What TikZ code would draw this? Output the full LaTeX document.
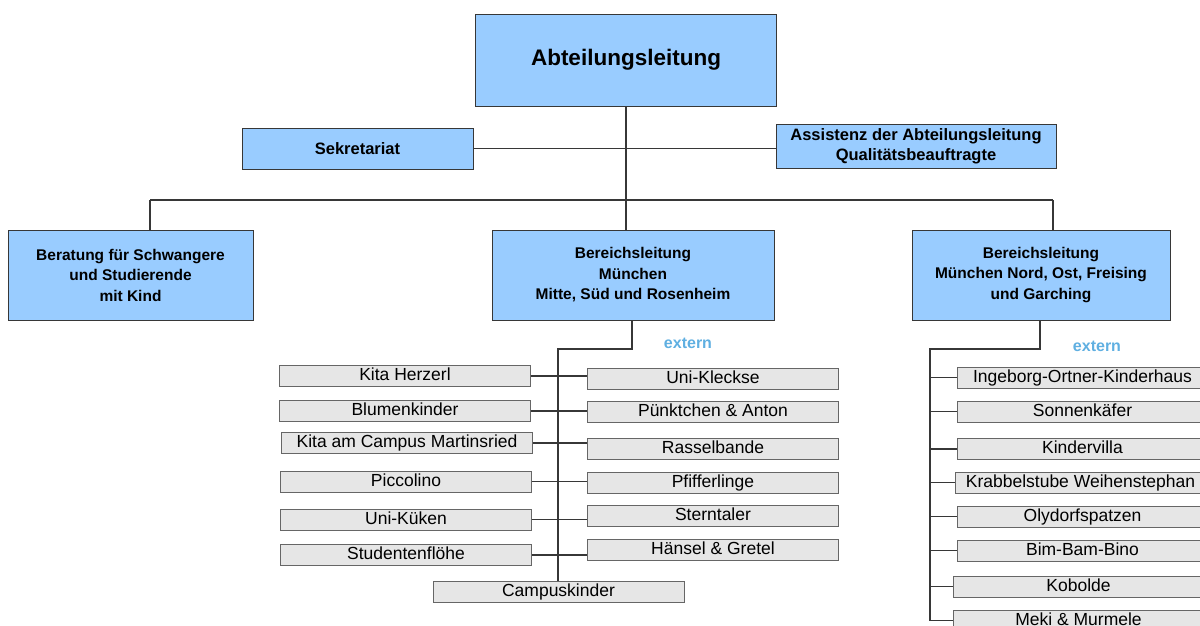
\documentclass[tikz,border=0pt]{standalone}
\usepackage{fontspec}
\setmainfont{Liberation Sans}
\definecolor{bl}{RGB}{153,204,255}
\definecolor{gr}{RGB}{230,230,230}
\definecolor{ext}{RGB}{95,175,225}
\definecolor{ln}{RGB}{55,55,55}
\begin{document}
\begin{tikzpicture}[x=1pt,y=-1pt,
  blue/.style={draw=ln, fill=bl, line width=1pt, inner sep=0pt, align=center,
    font=\fontsize{15.5}{20.5}\selectfont\bfseries},
  grey/.style={draw=black!60, fill=gr, line width=1pt, inner sep=0pt,
    minimum width=251pt, minimum height=21pt, text height=12.5pt, text depth=3.5pt,
    font=\fontsize{17.5}{20}\selectfont},
  extlabel/.style={text=ext, font=\fontsize{16}{18}\selectfont\bfseries},
  conn/.style={draw=ln, line width=1.1pt}]
\useasboundingbox (0,0) rectangle (1200,625);
\clip (0,0) rectangle (1200,625);

% top level
\node[blue, minimum width=301pt, minimum height=92pt, font=\fontsize{22.5}{26}\selectfont\bfseries] (abt) at (626,60) {Abteilungsleitung};
\node[blue, minimum width=231pt, minimum height=41pt, font=\fontsize{16.5}{20}\selectfont\bfseries] (sek) at (357.5,148.5) {Sekretariat};
\node[blue, minimum width=280pt, minimum height=44pt, font=\fontsize{16.5}{20}\selectfont\bfseries] (ass) at (916,146) {Assistenz der Abteilungsleitung\\Qualitätsbeauftragte};

\node[blue, minimum width=245pt, minimum height=90pt] (ber) at (130.5,275) {Beratung für Schwangere\\und Studierende\\mit Kind};
\node[blue, minimum width=282pt, minimum height=90pt] (blm) at (633,275) {Bereichsleitung\\München\\Mitte, Süd und Rosenheim};
\node[blue, minimum width=258pt, minimum height=90pt] (bln) at (1041,275) {Bereichsleitung\\München Nord, Ost, Freising\\und Garching};

\coordinate (bar) at (626,200);
\coordinate (barl) at (150,200);
\coordinate (barr) at (1053,200);
\draw[conn] (abt.south) -- (bar);
\draw[conn] (sek.east) -- (sek.east -| ass.west);
\draw[conn] (barl) -- (barr);
\draw[conn] (barl) -- (barl |- ber.north);
\draw[conn] (bar) -- (bar |- blm.north);
\draw[conn] (barr) -- (barr |- bln.north);

% middle branch
\node[extlabel] (ext1) at (688,343) {extern};
\node[grey] (l1) at (405,376) {Kita Herzerl};
\node[grey] (l2) at (405,411) {Blumenkinder};
\node[grey] (l3) at (407,443) {Kita am Campus Martinsried};
\node[grey] (l4) at (406,481.5) {Piccolino};
\node[grey] (l5) at (406,519.5) {Uni-Küken};
\node[grey] (l6) at (406,555) {Studentenflöhe};
\node[grey] (r1) at (713,378.5) {Uni-Kleckse};
\node[grey] (r2) at (713,411.5) {Pünktchen \& Anton};
\node[grey] (r3) at (713,449) {Rasselbande};
\node[grey] (r4) at (713,482.5) {Pfifferlinge};
\node[grey] (r5) at (713,515.5) {Sterntaler};
\node[grey] (r6) at (713,549.5) {Hänsel \& Gretel};
\node[grey] (camp) at (558.5,591.5) {Campuskinder};

\coordinate (m1) at (632,349);
\coordinate (m2) at (558,349);
\draw[conn] (m1 |- blm.south) -- (m1) -- (m2) -- (m2 |- camp.north);
\foreach \i in {1,...,6}{
  \draw[conn] (l\i.east) -- (l\i.east -| r\i.west);
}

% right branch
\node[extlabel] (ext2) at (1097,346) {extern};
\node[grey] (k1) at (1082.5,377.5) {Ingeborg-Ortner-Kinderhaus};
\node[grey] (k2) at (1082.5,411.5) {Sonnenkäfer};
\node[grey] (k3) at (1082.5,449) {Kindervilla};
\node[grey] (k4) at (1080.5,482.5) {Krabbelstube Weihenstephan};
\node[grey] (k5) at (1082.5,516.5) {Olydorfspatzen};
\node[grey] (k6) at (1082.5,550.5) {Bim-Bam-Bino};
\node[grey] (k7) at (1078.5,586.5) {Kobolde};
\node[grey] (k8) at (1078.5,620.5) {Meki \& Murmele};

\coordinate (n1) at (1040,349);
\coordinate (n2) at (930,349);
\draw[conn] (n1 |- bln.south) -- (n1) -- (n2) -- (n2 |- k8.west) -- (k8.west);
\foreach \i in {1,...,7}{
  \draw[conn] (n2 |- k\i.west) -- (k\i.west);
}
\end{tikzpicture}
\end{document}
